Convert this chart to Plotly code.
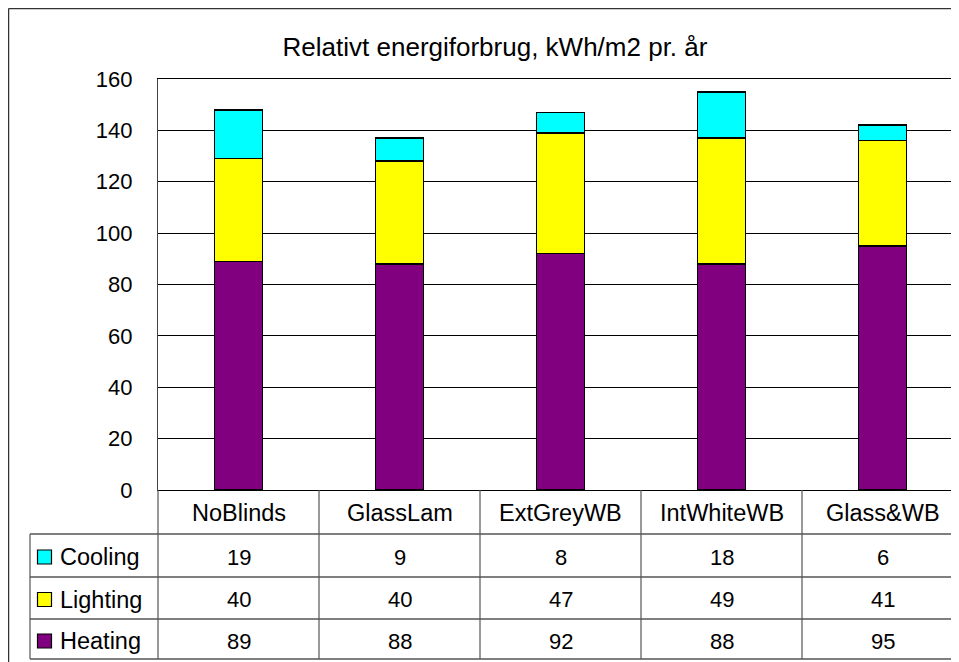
import plotly.graph_objects as go

# ---- data ----
categories = ["NoBlinds", "GlassLam", "ExtGreyWB", "IntWhiteWB", "Glass&WB"]
heating = [89, 88, 92, 88, 95]
lighting = [40, 40, 47, 49, 41]
cooling = [19, 9, 8, 18, 6]
row_names = ["Cooling", "Lighting", "Heating"]
y_ticks = [0, 20, 40, 60, 80, 100, 120, 140, 160]
title_text = "Relativt energiforbrug, kWh/m2 pr. år"

# ---- styling ----
OFF = 8                      # page body margin offset
W, H = 959 - 2 * OFF, 662 - OFF
FONT = "Liberation Sans, Arial, sans-serif"
FS = 22
FS_TXT = 23.5
colors = {"Heating": "#800080", "Lighting": "#FFFF00", "Cooling": "#00FFFF"}


def px(x):
    return (x - OFF) / W


def py(y):
    return 1 - (y - OFF) / H


series = {"Heating": heating, "Lighting": lighting, "Cooling": cooling}

fig = go.Figure()
for name in ["Heating", "Lighting", "Cooling"]:
    fig.add_trace(go.Bar(
        x=categories, y=series[name], name=name,
        marker=dict(color=colors[name], line=dict(color="black", width=1.5)),
        hoverinfo="x+y+name",
    ))

plot_left, plot_right = 158, 963
plot_top, plot_bottom = 79, 490
row_lines = [534, 577, 619, 659]
table_left = 30
slot = (plot_right - plot_left) / len(categories)
x_hi = -0.5 + (W + OFF - plot_left) / slot

shapes = []
# outer chart frame (left and top edges; the rest lies outside the picture)
shapes.append(dict(type="line", xref="paper", yref="paper",
                   x0=px(8.5), x1=px(8.5), y0=py(8.5), y1=0,
                   line=dict(color="#333333", width=1.5)))
shapes.append(dict(type="line", xref="paper", yref="paper",
                   x0=px(8.5), x1=1.0, y0=py(8.5), y1=py(8.5),
                   line=dict(color="#333333", width=1.5)))
# horizontal table lines
for yl in row_lines:
    shapes.append(dict(type="line", xref="paper", yref="paper",
                       x0=px(table_left), x1=1.0, y0=py(yl), y1=py(yl),
                       line=dict(color="black", width=1.2)))
# table left edge and legend column edge
shapes.append(dict(type="line", xref="paper", yref="paper",
                   x0=px(table_left), x1=px(table_left), y0=py(row_lines[0]), y1=py(row_lines[-1]),
                   line=dict(color="#555555", width=1.2)))
shapes.append(dict(type="line", xref="paper", yref="paper",
                   x0=px(plot_left), x1=px(plot_left), y0=py(plot_bottom), y1=py(row_lines[-1]),
                   line=dict(color="#555555", width=1.2)))
# column separators at category boundaries
for i in range(len(categories) - 1):
    shapes.append(dict(type="line", xref="x", yref="paper",
                       x0=i + 0.5, x1=i + 0.5, y0=py(plot_bottom), y1=py(row_lines[-1]),
                       line=dict(color="#555555", width=1.2)))

annotations = []
for c in categories:
    annotations.append(dict(x=c, xref="x", y=py((plot_bottom + row_lines[0]) / 2 + 1), yref="paper",
                            text=c, showarrow=False, xanchor="center", yanchor="middle",
                            font=dict(family=FONT, size=FS_TXT, color="black")))
row_centers = [557, 599.5, 641]
for r, name in enumerate(row_names):
    yc = row_centers[r]
    vals = series[name]
    shapes.append(dict(type="rect", xref="paper", yref="paper",
                       x0=px(37.5), x1=px(51.5), y0=py(yc - 7), y1=py(yc + 7),
                       fillcolor=colors[name], line=dict(color="black", width=1.2)))
    annotations.append(dict(x=px(58), xref="paper", y=py(yc), yref="paper",
                            text=name, showarrow=False, xanchor="left", yanchor="middle",
                            font=dict(family=FONT, size=FS_TXT, color="black")))
    for c, v in zip(categories, vals):
        annotations.append(dict(x=c, xref="x", y=py(yc), yref="paper",
                                text=str(v), showarrow=False, xanchor="center", yanchor="middle",
                                font=dict(family=FONT, size=FS, color="black")))

fig.update_layout(
    width=W, height=H,
    margin=dict(l=0, r=0, t=0, b=0, pad=0, autoexpand=False),
    paper_bgcolor="white", plot_bgcolor="white",
    barmode="stack", bargap=0.7,
    showlegend=False,
    font=dict(family=FONT, size=FS, color="black"),
    title=dict(text=title_text, x=(495 - OFF) / W, xanchor="center",
               y=1 - (47 - OFF) / H, yanchor="middle",
               font=dict(family=FONT, size=26, color="black")),
    xaxis=dict(domain=[px(plot_left), 1.0], range=[-0.5, x_hi], automargin=False,
               showticklabels=False, ticks="", showgrid=False, zeroline=False,
               showline=True, linecolor="black", linewidth=1.2, mirror=True),
    yaxis=dict(domain=[py(plot_bottom), py(plot_top)], range=[0, 160], automargin=False,
               tickvals=y_ticks, ticktext=[str(t) for t in y_ticks],
               showgrid=True, gridcolor="black", gridwidth=1,
               zeroline=False, showline=True, linecolor="#444444", linewidth=1.2,
               ticks="", ticklabelstandoff=20,
               tickfont=dict(family=FONT, size=FS, color="black")),
    shapes=shapes,
    annotations=annotations,
)

fig.write_html("out.html")
